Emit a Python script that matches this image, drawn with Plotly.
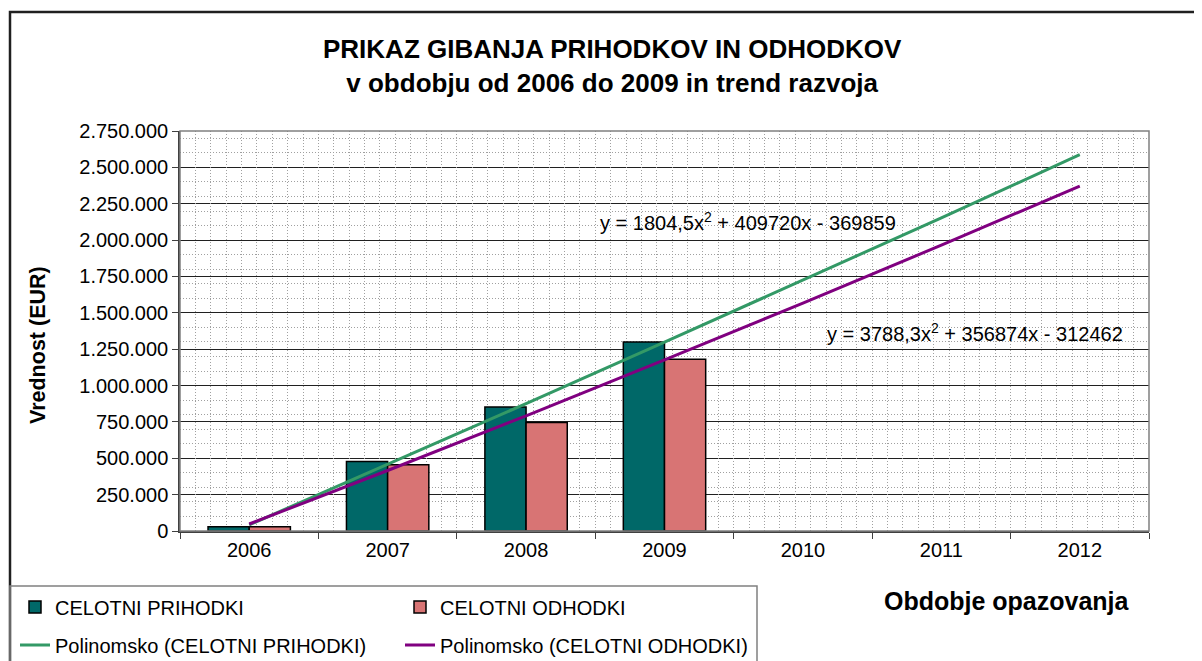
import plotly.graph_objects as go

years = ["2006", "2007", "2008", "2009", "2010", "2011", "2012"]
bar_years = ["2006", "2007", "2008", "2009"]
prihodki = [30000, 478000, 852000, 1300000]
odhodki = [29000, 455000, 746000, 1180000]
trend_prihodki = [42000, 457000, 876000, 1298000, 1724000, 2153000, 2587000]
trend_odhodki = [48000, 416000, 792000, 1176000, 1567000, 1965000, 2371000]

FONT = "Liberation Sans, Arial, sans-serif"

# page offset of the figure (body margin) and plot-area geometry in page pixels
OFF = 8
W, H = 1202 - OFF, 661 - OFF
PL, PR, PT, PB = 180, 1149, 131, 531


def px(x):
    return (x - PL) / (PR - PL)


def py(y):
    return (PB - y) / (PB - PT)


fig = go.Figure()
fig.add_trace(go.Bar(x=bar_years, y=prihodki, name="CELOTNI PRIHODKI", legend="legend",
                     marker=dict(color="#006868", line=dict(color="#000000", width=1.5))))
fig.add_trace(go.Bar(x=bar_years, y=odhodki, name="CELOTNI ODHODKI", legend="legend",
                     marker=dict(color="#D87474", line=dict(color="#000000", width=1.5))))
fig.add_trace(go.Scatter(x=years, y=trend_prihodki, mode="lines", legend="legend2",
                         name="Polinomsko (CELOTNI PRIHODKI)",
                         line=dict(color="#339966", width=3)))
fig.add_trace(go.Scatter(x=years, y=trend_odhodki, mode="lines", legend="legend2",
                         name="Polinomsko (CELOTNI ODHODKI)",
                         line=dict(color="#800080", width=3)))
# invisible helper for minor vertical grid axis
fig.add_trace(go.Scatter(x=[0], y=[0], xaxis="x2", mode="markers", opacity=0,
                         showlegend=False, hoverinfo="skip"))

legend_common = dict(orientation="h", xref="container", yref="container",
                     xanchor="left", yanchor="middle", entrywidth=340,
                     bgcolor="rgba(0,0,0,0)", borderwidth=0,
                     font=dict(family=FONT, size=20), itemwidth=30)

fig.update_layout(
    width=W, height=H,
    margin=dict(l=PL - OFF, r=W - (PR - OFF), t=PT - OFF, b=H - (PB - OFF)),
    paper_bgcolor="white", plot_bgcolor="white",
    separators=",.",
    barmode="group", bargap=0.405, bargroupgap=0,
    font=dict(family=FONT, color="#000000"),
    showlegend=True,
    legend=dict(legend_common, x=7 / W, y=1 - (607 - OFF) / H),
    legend2=dict(legend_common, x=7 / W, y=1 - (645 - OFF) / H),
    xaxis=dict(type="category", categoryorder="array", categoryarray=years,
               range=[-0.5, 6.5], tickson="boundaries", ticks="outside", ticklen=6,
               tickcolor="#404040", showline=True, linecolor="#404040", linewidth=1.5,
               showgrid=False, tickfont=dict(size=20, family=FONT)),
    xaxis2=dict(overlaying="x", range=[0, 63], dtick=1, tick0=0, showgrid=True,
                gridcolor="#A0A0A0", griddash="1px,2px", gridwidth=1,
                showticklabels=False, ticks="", showline=False, zeroline=False,
                fixedrange=True),
    yaxis=dict(range=[0, 2750000], dtick=250000, tick0=0, tickformat=",d",
               ticks="outside", ticklen=6, tickcolor="#404040",
               showline=True, linecolor="#404040", linewidth=1.5,
               showgrid=True, gridcolor="#202020", gridwidth=1, zeroline=False,
               tickfont=dict(size=20, family=FONT),
               minor=dict(dtick=100000, tick0=0, showgrid=True, gridcolor="#A0A0A0",
                          griddash="1px,2px", gridwidth=1, ticks="")),
)

# plot-area frame, outer chart border, legend box
fig.add_shape(type="rect", xref="paper", yref="paper", x0=0, x1=1, y0=0, y1=1,
              line=dict(color="#808080", width=1.5), layer="above")
fig.add_shape(type="rect", xref="paper", yref="paper",
              x0=px(10), x1=px(1215), y0=py(680), y1=py(12),
              line=dict(color="#202020", width=2.5), layer="above")
fig.add_shape(type="rect", xref="paper", yref="paper",
              x0=px(10), x1=px(757), y0=py(680), y1=py(586),
              line=dict(color="#808080", width=1.5), layer="above")

# titles
fig.add_annotation(xref="paper", yref="paper", x=px(612), y=py(66),
                   text="<b>PRIKAZ GIBANJA PRIHODKOV IN ODHODKOV<br>v obdobju od 2006 do 2009 in trend razvoja</b>",
                   showarrow=False, font=dict(size=26, family=FONT), align="center",
                   xanchor="center", yanchor="middle")
fig.add_annotation(xref="paper", yref="paper", x=px(38), y=py(345),
                   text="<b>Vrednost (EUR)</b>", textangle=-90, showarrow=False,
                   font=dict(size=21.5, family=FONT), xanchor="center", yanchor="middle")
fig.add_annotation(xref="paper", yref="paper", x=px(1007), y=py(601),
                   text="<b>Obdobje opazovanja</b>", showarrow=False,
                   font=dict(size=25, family=FONT), xanchor="center", yanchor="middle")

# trendline equations
fig.add_annotation(xref="x", yref="y", x=3.6, y=2126000,
                   text="y = 1804,5x<sup>2</sup> + 409720x - 369859", showarrow=False,
                   font=dict(size=20, family=FONT), xanchor="center", yanchor="middle")
fig.add_annotation(xref="x", yref="y", x=5.24, y=1365000,
                   text="y = 3788,3x<sup>2</sup> + 356874x - 312462", showarrow=False,
                   font=dict(size=20, family=FONT), xanchor="center", yanchor="middle")

fig.write_html("out.html")
